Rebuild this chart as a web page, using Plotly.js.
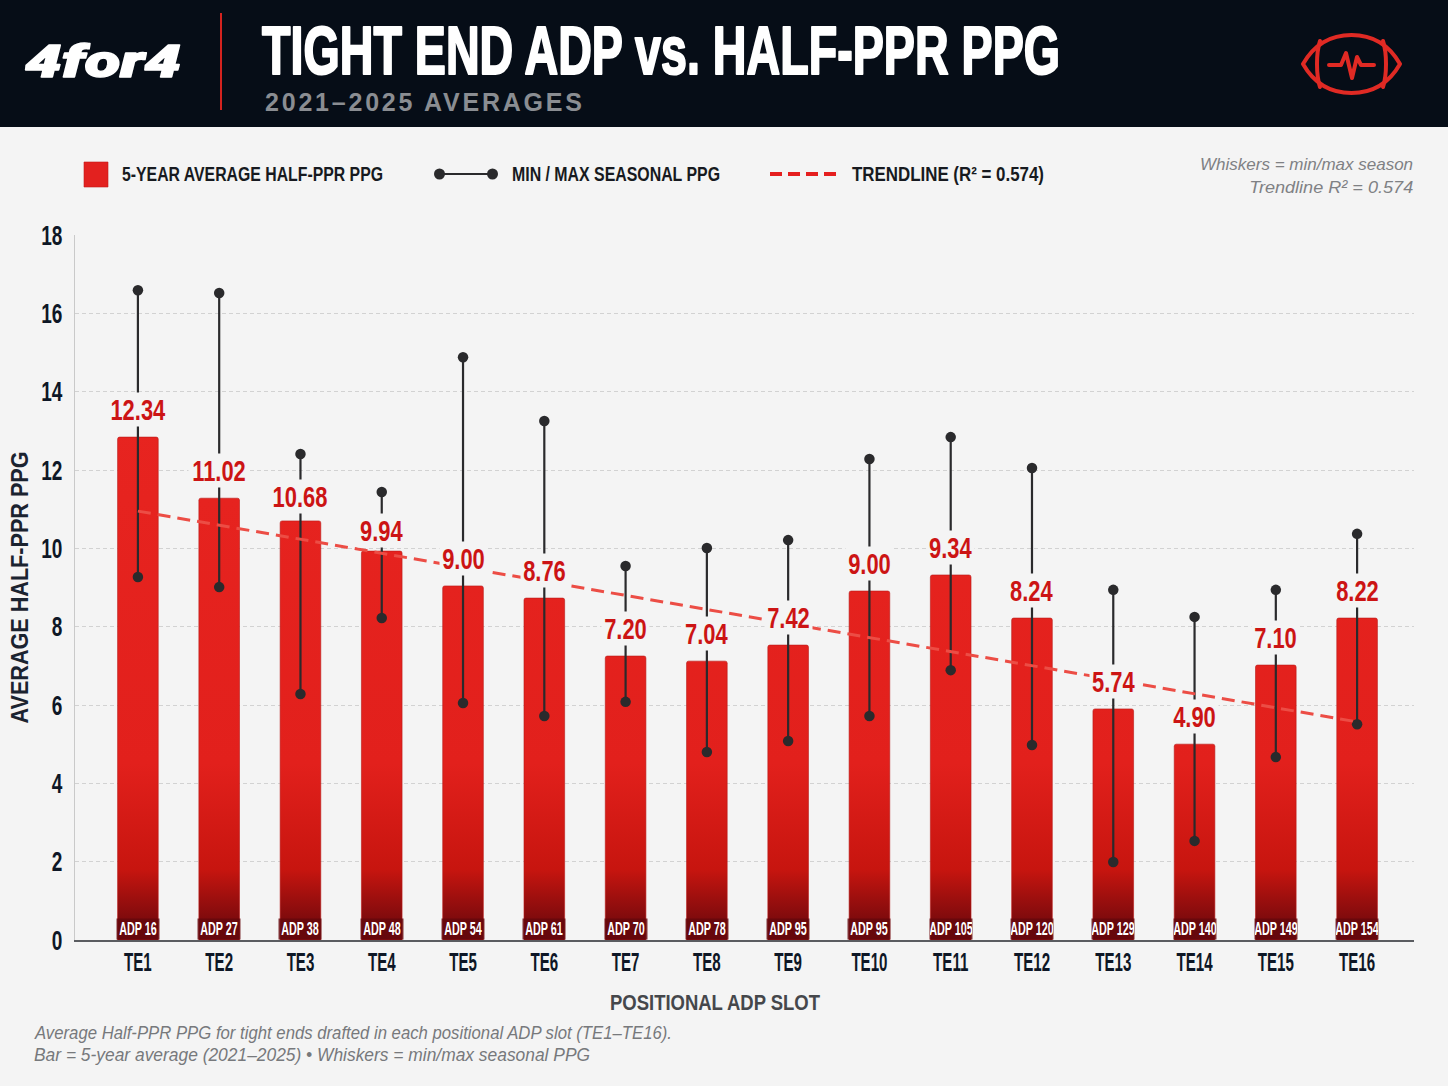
<!DOCTYPE html>
<html>
<head>
<meta charset="utf-8">
<title>Tight End ADP vs. Half-PPR PPG</title>
<script src="https://cdn.plot.ly/plotly-3.0.1.min.js"></script>
<style>
    html, body { margin: 0; padding: 0; background: #f4f4f4; }
</style>
</head>
<body>
<div id="chart"></div>
<script>
// values
var slots = ["TE1", "TE2", "TE3", "TE4", "TE5", "TE6", "TE7", "TE8", "TE9", "TE10", "TE11", "TE12", "TE13", "TE14", "TE15", "TE16"];
var adpLabels = ["ADP 16", "ADP 27", "ADP 38", "ADP 48", "ADP 54", "ADP 61", "ADP 70", "ADP 78", "ADP 95", "ADP 95", "ADP 105", "ADP 120", "ADP 129", "ADP 140", "ADP 149", "ADP 154"];
var barHeights = [12.84, 11.28, 10.70, 9.93, 9.04, 8.73, 7.25, 7.12, 7.53, 8.91, 9.32, 8.22, 5.90, 5.00, 7.02, 8.22];
var printedAverages = ["12.34", "11.02", "10.68", "9.94", "9.00", "8.76", "7.20", "7.04", "7.42", "9.00", "9.34", "8.24", "5.74", "4.90", "7.10", "8.22"];
var seasonMax = [16.59, 16.52, 12.41, 11.44, 14.88, 13.25, 9.55, 10.01, 10.21, 12.28, 12.84, 12.05, 8.94, 8.25, 8.94, 10.37];
var seasonMin = [9.27, 9.01, 6.28, 8.22, 6.05, 5.72, 6.08, 4.80, 5.08, 5.72, 6.89, 4.98, 1.99, 2.53, 4.67, 5.51];
var trendX = ["TE1", "TE16"];
var trendY = [10.95, 5.57];
var yTicks = [0, 2, 4, 6, 8, 10, 12, 14, 16, 18];

var W = 1448, H = 1086;
var plotL = 75, plotR = 1414, plotT = 235, plotB = 940;
var SANS = '"Liberation Sans", Arial, sans-serif';
var INK = "#0e1726";

// page pixels to paper coordinates, used for the header, legend and notes
function px(x) { return (x - plotL) / (plotR - plotL); }
function py(y) { return (plotB - y) / (plotB - plotT); }

var bars = {
    type: "bar",
    x: slots,
    y: barHeights,
    width: 0.5,
    marker: { color: "#e8231f", cornerradius: 2, line: { color: "#b81a18", width: 0.6 } },
    hoverinfo: "skip"
};

var whiskers = {
    type: "scatter",
    mode: "none",
    x: slots,
    y: barHeights,
    error_y: {
        type: "data",
        symmetric: false,
        array: seasonMax.map(function (v, i) { return v - barHeights[i]; }),
        arrayminus: barHeights.map(function (v, i) { return v - seasonMin[i]; }),
        width: 0,
        thickness: 2.2,
        color: "#2a2a2c"
    },
    hoverinfo: "skip"
};

function dots(values) {
    return {
        type: "scatter",
        mode: "markers",
        x: slots,
        y: values,
        marker: { color: "#2a2a2c", size: 10.5 },
        hoverinfo: "skip"
    };
}

var trend = {
    type: "scatter",
    mode: "lines",
    x: trendX,
    y: trendY,
    line: { color: "#ec4d45", width: 3, dash: "13px,7px" },
    hoverinfo: "skip"
};

var data = [bars, whiskers, dots(seasonMax), dots(seasonMin), trend];

// football icon in the header
var footballSvg = '<svg xmlns="http://www.w3.org/2000/svg" viewBox="0 0 101 62">' +
    '<g fill="none" stroke="#e02a24" stroke-width="4" stroke-linejoin="round" stroke-linecap="round">' +
    '<path d="M2 31 C14 10 32 2 50.5 2 C69 2 87 10 99 31 C87 52 69 60 50.5 60 C32 60 14 52 2 31 Z"/>' +
    '<path d="M19 8 C15 20 15 42 19 54"/><path d="M82 8 C86 20 86 42 82 54"/>' +
    '<path d="M28 32 H40 L45 20 L51 45 L56 24 L60 32 H73"/></g></svg>';

var shapes = [
    // header band and its divider
    { type: "rect", xref: "paper", yref: "paper", x0: px(0), x1: px(W), y0: py(127), y1: py(0), fillcolor: "#060d17", line: { width: 0 }, layer: "below" },
    { type: "line", xref: "paper", yref: "paper", x0: px(221), x1: px(221), y0: py(110), y1: py(13), line: { color: "#d4231f", width: 2 } },
    // hand drawn legend
    { type: "rect", xref: "paper", yref: "paper", x0: px(84), x1: px(108), y0: py(187), y1: py(162), fillcolor: "#e3211f", line: { color: "#c21a18", width: 0.6 } },
    { type: "line", xref: "paper", yref: "paper", x0: px(439), x1: px(493), y0: py(174), y1: py(174), line: { color: "#2a2a2c", width: 2 } },
    { type: "circle", xref: "paper", yref: "paper", x0: px(434), x1: px(445), y0: py(179.5), y1: py(168.5), fillcolor: "#2a2a2c", line: { width: 0 } },
    { type: "circle", xref: "paper", yref: "paper", x0: px(487), x1: px(498), y0: py(179.5), y1: py(168.5), fillcolor: "#2a2a2c", line: { width: 0 } },
    { type: "line", xref: "paper", yref: "paper", x0: px(770), x1: px(838), y0: py(174), y1: py(174), line: { color: "#e51f1f", width: 4, dash: "12px,6px" } }
];

// pinned text: [text, x, y, anchor, size, colour, weight, style, family, target width]
var pinned = [
    ["4for4", 24, 61, "left", 45, "#ffffff", 900, "italic", "Roboto, sans-serif", 156],
    ["2021–2025 AVERAGES", 264, 102, "left", 25, "#8a8d92", 700, "normal", SANS, 317],
    ["5-YEAR AVERAGE HALF-PPR PPG", 121, 173.5, "left", 21, "#171a20", 700, "normal", SANS, 261],
    ["MIN / MAX SEASONAL PPG", 511, 173.5, "left", 21, "#171a20", 700, "normal", SANS, 208],
    ["TRENDLINE (R² = 0.574)", 851, 173.5, "left", 21, "#171a20", 700, "normal", SANS, 192],
    ["Whiskers = min/max season", 1414, 164.5, "right", 17, "#7f8184", 400, "italic", SANS, 213],
    ["Trendline R² = 0.574", 1414, 187.5, "right", 17, "#7f8184", 400, "italic", SANS, 164],
    ["Average Half-PPR PPG for tight ends drafted in each positional ADP slot (TE1–TE16).", 33, 1033, "left", 18, "#77797c", 400, "italic", SANS, 637],
    ["Bar = 5-year average (2021–2025) • Whiskers = min/max seasonal PPG", 33, 1055, "left", 18, "#77797c", 400, "italic", SANS, 556]
];

var fitWidths = {};
var annotations = pinned.map(function (p) {
    fitWidths[p[0]] = p[9];
    return {
        xref: "paper", yref: "paper", x: px(p[1]), y: py(p[2]),
        text: p[0], showarrow: false, xanchor: p[3], yanchor: "middle", align: p[3],
        borderpad: 0,
        font: { size: p[4], color: p[5], weight: p[6], style: p[7], family: p[8] }
    };
});

// these two numbers sit closer to their bars in the original
var labelShift = { TE3: 7, TE4: 3 };

slots.forEach(function (slot, i) {
    // the pale box behind the number also cuts the whisker, as in the original
    annotations.push({
        x: slot, y: barHeights[i], yshift: labelShift[slot] || 10,
        text: printedAverages[i], showarrow: false, yanchor: "bottom",
        width: printedAverages[i].length > 4 ? 60 : 47,
        bgcolor: "#f4f4f4", borderpad: 0,
        font: { size: 30, color: "#cc1414", weight: 700, family: SANS }
    });
    annotations.push({
        x: slot, y: 0,
        text: adpLabels[i], showarrow: false, yanchor: "bottom",
        width: 42, height: 20,
        bgcolor: "rgba(100,8,12,0.8)", borderpad: 0,
        font: { size: 18, color: "#ffffff", weight: 700, family: SANS }
    });
});

var layout = {
    width: W,
    height: H,
    margin: { l: plotL, r: W - plotR, t: plotT, b: H - plotB, pad: 0 },
    paper_bgcolor: "#f4f4f4",
    plot_bgcolor: "rgba(0,0,0,0)",
    showlegend: false,
    bargap: 0.5,
    title: {
        text: "TIGHT END ADP vs. HALF-PPR PPG",
        xref: "container", yref: "container",
        x: 262 / W, xanchor: "left",
        y: 1 - 50 / H, yanchor: "middle",
        font: { size: 68, color: "#ffffff", weight: 700, family: SANS }
    },
    xaxis: {
        type: "category",
        categoryorder: "array",
        categoryarray: slots,
        range: [-0.774, 15.70],
        tickangle: 0,
        ticks: "",
        ticklen: 0,
        ticklabelstandoff: -2,
        showline: true,
        linecolor: "#5a5c60",
        linewidth: 1.5,
        showgrid: false,
        zeroline: false,
        tickfont: { size: 26, color: INK, weight: 700, family: SANS },
        title: { text: "POSITIONAL ADP SLOT", standoff: 16, font: { size: 22, color: "#45474b", weight: 700, family: SANS } }
    },
    yaxis: {
        range: [0, 18],
        tickvals: yTicks,
        ticks: "",
        ticklabelstandoff: 6,
        showline: true,
        linecolor: "#c9c9c9",
        linewidth: 1,
        gridcolor: "#d2d2d2",
        griddash: "4px,3px",
        gridwidth: 1,
        zeroline: false,
        tickfont: { size: 28, color: INK, weight: 700, family: SANS },
        title: { text: "AVERAGE HALF-PPR PPG", standoff: 12, font: { size: 24, color: "#1b2330", weight: 700, family: SANS } }
    },
    images: [{
        source: "data:image/svg+xml;utf8," + encodeURIComponent(footballSvg),
        xref: "paper", yref: "paper",
        x: px(1301), y: py(33), sizex: 101 / (plotR - plotL), sizey: 62 / (plotB - plotT),
        xanchor: "left", yanchor: "top", sizing: "stretch", layer: "above"
    }],
    shapes: shapes,
    annotations: annotations
};

var config = { staticPlot: true, displayModeBar: false };

// the original type is far narrower than any installed font, so squeeze the glyphs
function squeezeTo(el, width, adjust) {
    el.setAttribute("textLength", width);
    el.setAttribute("lengthAdjust", adjust || "spacingAndGlyphs");
}

function squeezeBy(selector, ratio) {
    document.querySelectorAll(selector).forEach(function (el) {
        squeezeTo(el, el.getComputedTextLength() * ratio);
    });
}

function thicken(el, color, width) {
    el.style.stroke = color;
    el.style.strokeWidth = width + "px";
    el.style.strokeLinejoin = "round";
}

function paintBars() {
    var svg = document.querySelector("#chart .main-svg");
    var ns = "http://www.w3.org/2000/svg";
    var defs = document.createElementNS(ns, "defs");
    var grad = document.createElementNS(ns, "linearGradient");
    grad.setAttribute("id", "barShade");
    grad.setAttribute("gradientUnits", "userSpaceOnUse");
    grad.setAttribute("x1", 0); grad.setAttribute("x2", 0);
    grad.setAttribute("y1", 0); grad.setAttribute("y2", plotB - plotT);
    [[0, "#ea2622"], [0.75, "#e2201c"], [0.9, "#c7150f"], [0.97, "#7f0b0d"], [1, "#6d090c"]].forEach(function (s) {
        var stop = document.createElementNS(ns, "stop");
        stop.setAttribute("offset", s[0]);
        stop.setAttribute("stop-color", s[1]);
        grad.appendChild(stop);
    });
    defs.appendChild(grad);
    svg.insertBefore(defs, svg.firstChild);
    document.querySelectorAll("#chart .bars .point path").forEach(function (p) {
        p.style.fill = "url(#barShade)";
    });
}

var gd = document.getElementById("chart");
Plotly.newPlot(gd, data, layout, config).then(function () {
    paintBars();

    var title = document.querySelector("#chart .gtitle");
    squeezeTo(title, 798);
    thicken(title, "#ffffff", 2.2);

    squeezeBy("#chart .xtick text", 0.58);
    squeezeBy("#chart .ytick text", 0.68);

    document.querySelectorAll("#chart .annotation-text").forEach(function (t) {
        var text = t.textContent;
        if (text === "4for4") thicken(t, "#ffffff", 1.4);
        if (text === "2021–2025 AVERAGES") squeezeTo(t, fitWidths[text], "spacing");
        else if (fitWidths[text]) squeezeTo(t, fitWidths[text]);
        else if (text.indexOf("ADP") === 0) squeezeTo(t, t.getComputedTextLength() * 0.6);
        else squeezeTo(t, t.getComputedTextLength() * 0.73);
    });

    var xTitle = document.querySelector("#chart .xtitle");
    xTitle.setAttribute("x", 715);
    xTitle.setAttribute("y", Number(xTitle.getAttribute("y")) + 3);
    squeezeTo(xTitle, 210);

    var yTitle = document.querySelector("#chart .ytitle");
    var yMid = yTitle.getAttribute("y");
    yTitle.setAttribute("x", 17);
    yTitle.setAttribute("transform", "rotate(-90,17," + yMid + ")");
    squeezeTo(yTitle, 272);
});
</script>
</body>
</html>
